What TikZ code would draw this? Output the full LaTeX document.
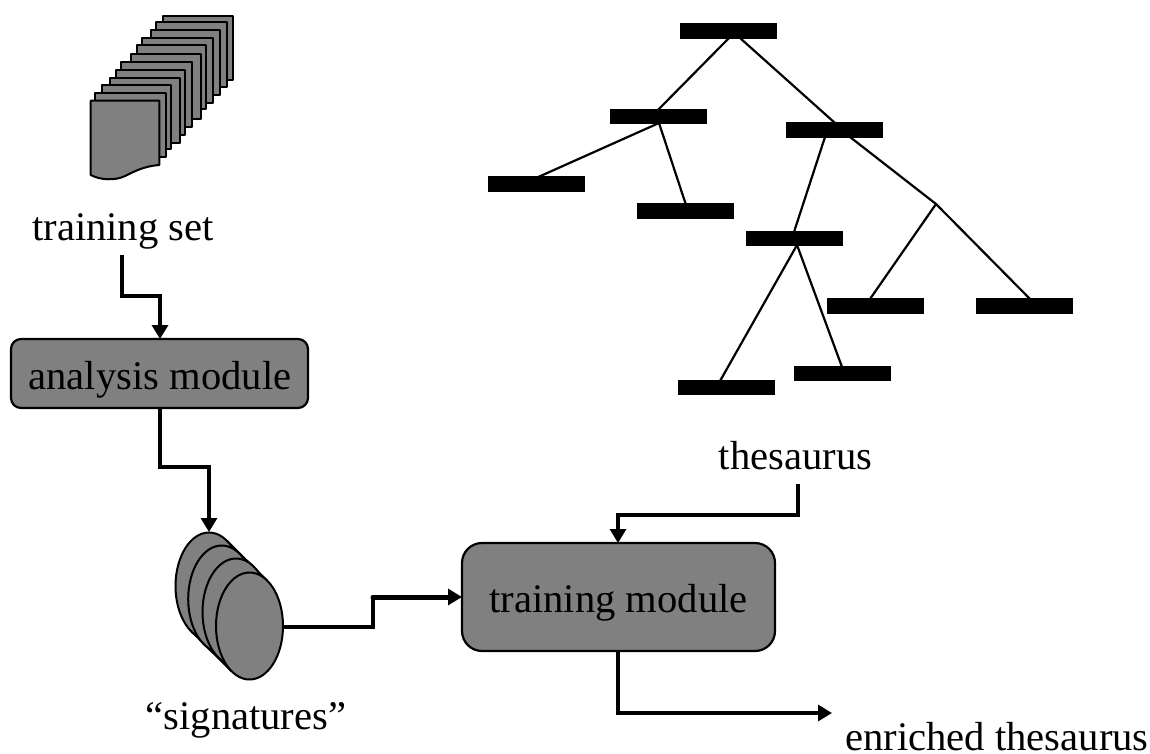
\documentclass[tikz,border=0pt]{standalone}
\usepackage{fontspec}
\setmainfont{Liberation Serif}
\usetikzlibrary{arrows.meta,shapes.geometric}
\definecolor{shade}{HTML}{808080}
\tikzset{
 x=1pt,y=-1pt,
 lbl/.style={inner sep=0pt,font=\fontsize{40.6}{40.6}\selectfont,text depth=0pt,anchor=base},
 modbox/.style={draw=black,line width=2.2pt,fill=shade,rectangle,inner sep=0pt},
 bar/.style={fill=black,rectangle,inner sep=0pt,minimum width=97pt,minimum height=15.5pt},
 branch/.style={line width=2.2pt,line cap=round},
 conn/.style={line width=3.2pt,-{Triangle[length=14pt,width=16pt]},line join=miter},
 page/.style={draw=black,line width=2pt,fill=shade,line join=round},
 oval/.style={draw=black,line width=2pt,fill=shade,ellipse,minimum width=67pt,minimum height=107pt,inner sep=0pt},
}
\newcommand{\pagesheet}[3]{\draw[page] (#1,#2) -- (#3,#2) -- (#3,#2+64.5) -- (#1,#2+64.5) -- cycle;}
\begin{document}
\begin{tikzpicture}
\useasboundingbox (0,0) rectangle (1150,753);
% page stack
\pagesheet{162.7}{15.7}{233.3}
\pagesheet{156}{22.3}{226.7}
\pagesheet{151.3}{30.3}{220.3}
\pagesheet{141.7}{38.3}{212.7}
\pagesheet{137}{44.7}{206}
\pagesheet{130.7}{54.3}{201.3}
\pagesheet{121}{62}{191.7}
\pagesheet{116.3}{70.3}{185.3}
\pagesheet{109.7}{78.3}{180.3}
\pagesheet{102}{84.7}{170.7}
\pagesheet{95.3}{92.7}{166}
\draw[page] (90.7,100.7) -- (159.3,100.7) -- (159.3,165) .. controls (145,166) and (135,171) .. (125,176) .. controls (115,181) and (100,180) .. (90.7,175) -- cycle;
% ovals
\draw[page] (226.8,540.7) -- (267.3,580.7) -- (231.7,671.3) -- (191.2,631.3) -- cycle;
\node[oval] (o1) at (209,586) {};
\node[oval] (o2) at (221.7,599) {};
\node[oval] (o3) at (236,612) {};
\node[oval] (o4) at (249.5,626) {};
% modules
\node[modbox,minimum width=297pt,minimum height=69pt,rounded corners=10pt] (am) at (159.5,373.5) {};
\node[lbl] (amt) at (160,389) {analysis module};
\node[modbox,minimum width=313pt,minimum height=108pt,rounded corners=20pt] (tm) at (618.5,597) {};
\node[lbl] (tmt) at (618.5,612) {training module};
% labels
\node[lbl] (ts) at (123,240.5) {training set};
\node[lbl] (th) at (795.5,469) {thesaurus};
\node[lbl] (sg) at (246,729.5) {“signatures”};
\node[lbl] (en) at (997,750) {enriched thesaurus};
% tree
\node[bar] (t0) at (728.5,31) {};
\node[bar] (t1) at (658.5,116.5) {};
\node[bar] (t2) at (834.5,130) {};
\node[bar] (t3) at (536.5,184) {};
\node[bar] (t4) at (685,211) {};
\node[bar] (t5) at (794,238.5) {};
\node[bar] (t6) at (875.5,306) {};
\node[bar] (t7) at (1024.5,306) {};
\node[bar] (t8) at (726.5,387.5) {};
\node[bar] (t9) at (842,373.5) {};
\coordinate (fork) at (936,204);
\draw[branch] (729,38) -- (653,115);
\draw[branch] (740,38) -- (835,123);
\draw[branch] (659,123) -- (536,178);
\draw[branch] (659,123) -- (686,205);
\draw[branch] (825,137) -- (794,232);
\draw[branch] (850,137) -- (fork);
\draw[branch] (fork) -- (870,299);
\draw[branch] (fork) -- (1030,299);
\draw[branch] (797,245) -- (720,381);
\draw[branch] (797,245) -- (842,367);
% connectors
\coordinate (a0) at (122,255);
\coordinate (a1) at (160,339);
\draw[conn] (a0) -- (122,296) -- (160,296) -- (a1);
\coordinate (b0) at (160,408);
\coordinate (b1) at (209,532);
\draw[conn] (b0) -- (160,467) -- (209,467) -- (b1);
\coordinate (c0) at (284,627);
\coordinate (c1) at (373,627);
\coordinate (c2) at (373,597);
\coordinate (c3) at (462,597);
\draw[line width=3.2pt,line cap=round] (c0) -- (c1) -- (c2);
\draw[line width=5pt,line cap=round] (c2) -- (450,597);
\draw[conn] (440,597) -- (c3);
\coordinate (d0) at (798,484);
\coordinate (d1) at (618,543);
\draw[conn] (d0) -- (798,515) -- (618,515) -- (d1);
\coordinate (e0) at (618,651);
\coordinate (e1) at (832,713);
\draw[conn] (e0) -- (618,713) -- (e1);
\end{tikzpicture}
\end{document}
